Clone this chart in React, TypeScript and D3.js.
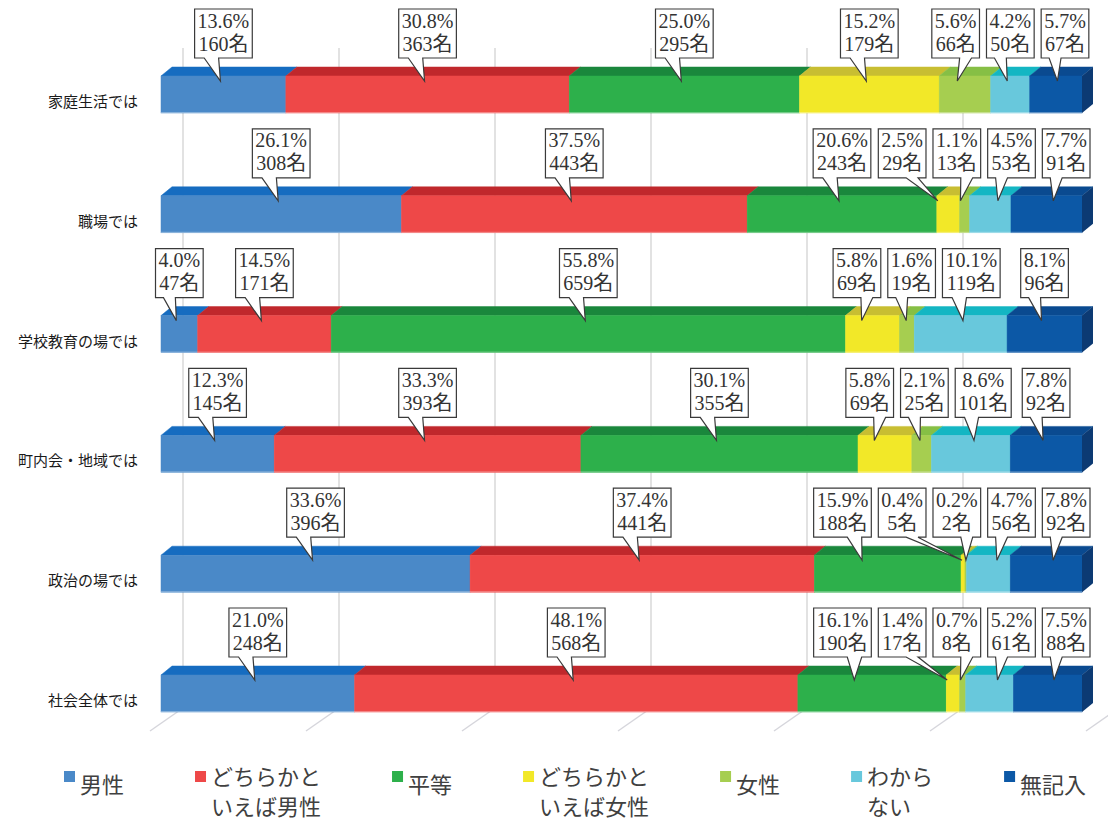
import { useRef, useEffect } from 'react';
import * as d3 from 'd3';

const categories = ['家庭生活では', '職場では', '学校教育の場では', '町内会・地域では', '政治の場では', '社会全体では'];
const seriesNames = ['男性', 'どちらかといえば男性', '平等', 'どちらかといえば女性', '女性', 'わからない', '無記入'];
const legendLines = [['男性'], ['どちらかと', 'いえば男性'], ['平等'], ['どちらかと', 'いえば女性'], ['女性'], ['わから', 'ない'], ['無記入']];

const percents = [
  [13.6, 30.8, 25.0, 15.2, 5.6, 4.2, 5.7],
  [26.1, 37.5, 20.6, 2.5, 1.1, 4.5, 7.7],
  [4.0, 14.5, 55.8, 5.8, 1.6, 10.1, 8.1],
  [12.3, 33.3, 30.1, 5.8, 2.1, 8.6, 7.8],
  [33.6, 37.4, 15.9, 0.4, 0.2, 4.7, 7.8],
  [21.0, 48.1, 16.1, 1.4, 0.7, 5.2, 7.5],
];
const counts = [
  [160, 363, 295, 179, 66, 50, 67],
  [308, 443, 243, 29, 13, 53, 91],
  [47, 171, 659, 69, 19, 119, 96],
  [145, 393, 355, 69, 25, 101, 92],
  [396, 441, 188, 5, 2, 56, 92],
  [248, 568, 190, 17, 8, 61, 88],
];

const frontColors = ['#4a89c8', '#ee4848', '#2db04b', '#f2e828', '#a6ce50', '#68c8dc', '#0c58a6'];
const topColors = ['#166cc0', '#c0282c', '#1a873c', '#c8be32', '#86bf45', '#14b6c3', '#0a4a90'];
const sideColor = '#0c3a73';
const gridTicks = [0, 20, 40, 60, 80, 100, 120];

const labelFont = '"Liberation Serif", "Noto Sans CJK JP", serif';
const cjkFont = '"Noto Sans CJK JP", "Noto Sans", sans-serif';

interface Box { c: number; w: number; left?: number }

// push overlapping callout boxes apart (cluster merge), keep them inside [minX, maxX]
function layoutBoxes(items: Box[], gap: number, minX: number, maxX: number) {
  type Cl = { idx: number[]; left: number; width: number };
  const clusters: Cl[] = [];
  const merge = () => {
    while (clusters.length > 1) {
      const b = clusters[clusters.length - 1];
      const a = clusters[clusters.length - 2];
      if (a.left + a.width + gap <= b.left) break;
      const idx = [...a.idx, ...b.idx];
      let off = 0;
      const offs: number[] = [];
      idx.forEach((j) => { offs.push(off + items[j].w / 2); off += items[j].w + gap; });
      const width = off - gap;
      const left = d3.mean(idx, (j, k) => items[j].c - offs[k]) as number;
      clusters.splice(-2, 2, { idx, left, width });
    }
  };
  items.forEach((it, i) => {
    clusters.push({ idx: [i], left: it.c - it.w / 2, width: it.w });
    merge();
  });
  clusters.forEach((cl) => {
    cl.left = Math.max(minX, Math.min(maxX - cl.width, cl.left));
  });
  for (let k = clusters.length - 2; k >= 0; k--) {
    const a = clusters[k], b = clusters[k + 1];
    if (a.left + a.width + gap > b.left) a.left = b.left - gap - a.width;
  }
  clusters.forEach((cl) => {
    let l = cl.left;
    cl.idx.forEach((j) => { items[j].left = l; l += items[j].w + gap; });
  });
}

export default function App() {
  const svgRef = useRef<SVGSVGElement>(null);

  useEffect(() => {
    if (!svgRef.current) return;
    const svg = d3.select(svgRef.current);
    svg.selectAll('*').remove();

    const W = 1108, H = 822;
    svg.append('rect').attr('width', W).attr('height', H).attr('fill', '#fff');

    const x = d3.scaleLinear().domain([0, 1]).range([161, 1082]);
    const yC = d3.scalePoint<string>().domain(categories).range([94.5, 693.5]);
    const wall = d3.scaleLinear().domain([0, 100]).range([183, 963]);
    const barH = 37, dx = 11, dy = -9;
    const floorY = 708, floorFront = 731, wallTop = 48;

    const measurer = svg.append('text').attr('x', -1000).attr('y', -1000);
    const measure = (txt: string, font: string, size: number) => {
      measurer.attr('font-family', font).attr('font-size', size).text(txt);
      return (measurer.node() as SVGTextElement).getComputedTextLength();
    };

    // back wall gridlines and floor lines
    const grid = svg.append('g');
    gridTicks.forEach((t) => {
      const gx = wall(t);
      grid.append('line')
        .attr('x1', gx).attr('x2', gx).attr('y1', wallTop).attr('y2', floorY)
        .attr('stroke', '#d9d9d9').attr('stroke-width', 1.5);
      grid.append('line')
        .attr('x1', gx).attr('y1', floorY).attr('x2', gx - 33).attr('y2', floorFront)
        .attr('stroke', '#d6d6dc').attr('stroke-width', 1.5);
    });

    // stacked shares
    const rows = categories.map((cat, i) => {
      const o: Record<string, number | string> = { cat };
      seriesNames.forEach((s, j) => { o[s] = counts[i][j]; });
      return o;
    });
    const stacked = d3.stack<Record<string, number | string>>()
      .keys(seriesNames)
      .value((d, key) => d[key] as number)
      .offset(d3.stackOffsetExpand)(rows);

    const bars = svg.append('g');
    categories.forEach((cat, i) => {
      const top = (yC(cat) ?? 0) - barH / 2;
      const g = bars.append('g');
      stacked.forEach((layer, j) => {
        const x0 = x(layer[i][0]), x1 = x(layer[i][1]);
        g.append('path')
          .attr('d', `M${x0},${top}L${x1},${top}L${x1 + dx},${top + dy}L${x0 + dx},${top + dy}Z`)
          .attr('fill', topColors[j]).attr('stroke', topColors[j]).attr('stroke-width', 0.5);
      });
      stacked.forEach((layer, j) => {
        const x0 = x(layer[i][0]), x1 = x(layer[i][1]);
        g.append('rect')
          .attr('x', x0).attr('y', top).attr('width', Math.max(0, x1 - x0)).attr('height', barH)
          .attr('fill', frontColors[j]).attr('stroke', frontColors[j]).attr('stroke-width', 0.5);
      });
      const xr = x(1);
      g.append('path')
        .attr('d', `M${xr},${top}L${xr + dx},${top + dy}L${xr + dx},${top + barH + dy}L${xr},${top + barH}Z`)
        .attr('fill', sideColor);
      g.append('line')
        .attr('x1', x(0)).attr('x2', xr).attr('y1', top + barH - 0.5).attr('y2', top + barH - 0.5)
        .attr('stroke', '#ffffff').attr('stroke-opacity', 0.35);

      // category label
      svg.append('text')
        .attr('x', 138).attr('y', (yC(cat) ?? 0) + 12.5)
        .attr('text-anchor', 'end')
        .attr('font-family', cjkFont).attr('font-size', 15).attr('fill', '#1a1a1a')
        .text(cat);
    });

    // callout labels
    const labels = svg.append('g');
    const fs = 20, boxH = 49;
    categories.forEach((cat, i) => {
      const top = (yC(cat) ?? 0) - barH / 2;
      const bTop = top - 67;
      const segs = stacked.map((layer) => ({ x0: x(layer[i][0]), x1: x(layer[i][1]) }));
      const lines = seriesNames.map((_, j) => [`${percents[i][j].toFixed(1)}%`, `${counts[i][j]}名`]);
      const items: Box[] = segs.map((s, j) => ({
        c: (s.x0 + s.x1) / 2,
        w: Math.max(measure(lines[j][0], labelFont, fs), measure(lines[j][1], labelFont, fs)) + 6,
      }));
      layoutBoxes(items, 7, 150, 1090);
      items.forEach((it, j) => {
        const s = segs[j];
        const l = it.left ?? 0, r = l + it.w, b = bTop + boxH;
        const bc = l + it.w / 2;
        const tipX = Math.max(s.x0 + 1, Math.min(s.x1 - 1, ((s.x0 + s.x1) / 2 + bc) / 2 - 3));
        const tipY = top + 5;
        const right = tipX > bc;
        const xa = l + it.w * (right ? 7 : 2) / 12;
        const xb = l + it.w * (right ? 10 : 5) / 12;
        labels.append('path')
          .attr('d', `M${l},${bTop}L${r},${bTop}L${r},${b}L${xb},${b}L${tipX},${tipY}L${xa},${b}L${l},${b}Z`)
          .attr('fill', '#fff').attr('stroke', '#3a3a3a').attr('stroke-width', 1.2);
        lines[j].forEach((t, k) => {
          labels.append('text')
            .attr('x', bc).attr('y', bTop + 18.5 + k * 23)
            .attr('text-anchor', 'middle')
            .attr('font-family', labelFont).attr('font-size', fs).attr('fill', '#333')
            .text(t);
        });
      });
    });

    // legend
    const legend = svg.append('g');
    let mx = 64;
    legendLines.forEach((ls, j) => {
      legend.append('rect').attr('x', mx).attr('y', 771).attr('width', 11).attr('height', 11)
        .attr('fill', frontColors[j]);
      const tx = mx + 16;
      const baselines = ls.length === 1 ? [793] : [785, 815];
      let tw = 0;
      ls.forEach((t, k) => {
        legend.append('text')
          .attr('x', tx).attr('y', baselines[k])
          .attr('font-family', cjkFont).attr('font-size', 22).attr('fill', '#404040')
          .text(t);
        tw = Math.max(tw, measure(t, cjkFont, 22));
      });
      mx = tx + tw + 71;
    });

    measurer.remove();
  }, []);

  return (
    <svg ref={svgRef} width={1108} height={822}
      style={{ position: 'absolute', left: 0, top: 0, display: 'block' }} />
  );
}
